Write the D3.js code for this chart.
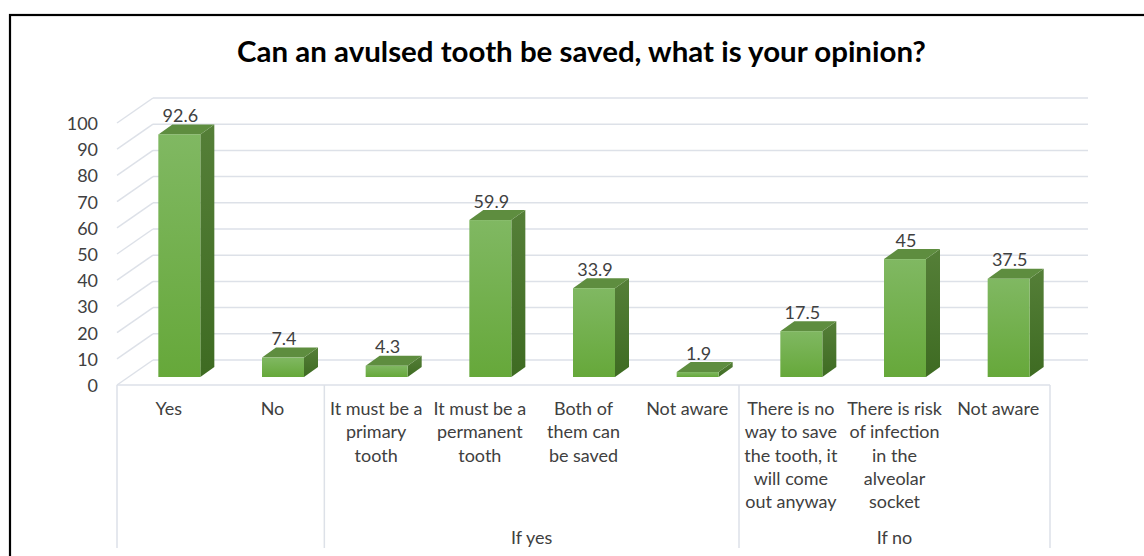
<!DOCTYPE html>
<html><head><meta charset="utf-8">
<script src="https://cdn.jsdelivr.net/npm/d3@7"></script>
<style>html,body{margin:0;padding:0;background:#fff;}svg{display:block;}</style>
</head><body>
<svg id="chart" width="1144" height="556"></svg>
<script>
// ---- data ----
const title = "Can an avulsed tooth be saved, what is your opinion?";
const categories = ["Yes", "No", "It must be a\nprimary\ntooth", "It must be a\npermanent\ntooth",
  "Both of\nthem can\nbe saved", "Not aware", "There is no\nway to save\nthe tooth, it\nwill come\nout anyway",
  "There is risk\nof infection\nin the\nalveolar\nsocket", "Not aware"];
const values = [92.6, 7.4, 4.3, 59.9, 33.9, 1.9, 17.5, 45, 37.5];
const valueLabels = ["92.6", "7.4", "4.3", "59.9", "33.9", "1.9", "17.5", "45", "37.5"];
const groupNames = ["If yes", "If no"];
const groupOf = [null, null, 0, 0, 0, 0, 1, 1, 1];
const yTicks = [0, 10, 20, 30, 40, 50, 60, 70, 80, 90, 100];

// ---- layout ----
const svg = d3.select("#chart");
const FONT = "Lato, 'Open Sans', sans-serif";
const left = 117, right = 1050, floorY = 385, topY = 123;
const depth = {dx: 36, dy: -25};
const barOff = {dx: 10.5, dy: -8};
const barDepth = {dx: 14, dy: -10};

const x = d3.scaleBand().domain(d3.range(categories.length)).range([left, right]).padding(0);
const y = d3.scaleLinear().domain([0, 100]).range([floorY, topY]);
const barW = 42;

function fitSize(str, weight, targetW) {
  const t = svg.append("text").attr("font-family", FONT).attr("font-weight", weight)
    .attr("font-size", 100).text(str);
  const w = t.node().getComputedTextLength();
  t.remove();
  return 100 * targetW / w;
}
const bodySize = fitSize("Not aware", "normal", 82);
const titleSize = fitSize(title, "bold", 689);

// border
svg.append("rect").attr("x", 10).attr("y", 15).attr("width", 1160).attr("height", 600)
  .attr("fill", "none").attr("stroke", "#000").attr("stroke-width", 2.2);

// title
svg.append("text").attr("x", 581.5).attr("y", 50).attr("text-anchor", "middle")
  .attr("dominant-baseline", "central").attr("font-family", FONT).attr("font-weight", "bold")
  .attr("font-size", titleSize).attr("fill", "#000").text(title);

const grid = svg.append("g").attr("stroke", "#dde1e8").attr("stroke-width", 1.5).attr("fill", "none");
yTicks.forEach(v => {
  const yf = y(v);
  grid.append("line").attr("x1", left).attr("y1", yf).attr("x2", left + depth.dx).attr("y2", yf + depth.dy);
  grid.append("line").attr("x1", left + depth.dx).attr("y1", yf + depth.dy)
    .attr("x2", right + depth.dx + 2).attr("y2", yf + depth.dy);
});
grid.append("line").attr("x1", left).attr("y1", floorY).attr("x2", right).attr("y2", floorY);

// category separators
const sepIdx = [0, 2, 6, 9];
sepIdx.forEach(i => {
  const sx = i < categories.length ? x(i) : right;
  grid.append("line").attr("x1", sx).attr("y1", floorY).attr("x2", sx).attr("y2", 548);
});

// y tick labels
svg.append("g").selectAll("text").data(yTicks).join("text")
  .attr("x", 98).attr("y", d => y(d)).attr("text-anchor", "end").attr("dominant-baseline", "central")
  .attr("font-family", FONT).attr("font-size", bodySize).attr("fill", "#404040").text(d => d);

// gradients
const defs = svg.append("defs");
const gF = defs.append("linearGradient").attr("id", "gFront").attr("x1", 0).attr("y1", 0).attr("x2", 0).attr("y2", 1);
gF.append("stop").attr("offset", "0%").attr("stop-color", "#80b862");
gF.append("stop").attr("offset", "100%").attr("stop-color", "#66a83a");
const gS = defs.append("linearGradient").attr("id", "gSide").attr("x1", 0).attr("y1", 0).attr("x2", 0).attr("y2", 1);
gS.append("stop").attr("offset", "0%").attr("stop-color", "#557f38");
gS.append("stop").attr("offset", "100%").attr("stop-color", "#3e6b22");

// bars
const bars = svg.append("g");
values.forEach((v, i) => {
  const cx = x(i) + x.bandwidth() / 2 + barOff.dx;
  const x0 = cx - barW / 2, x1 = cx + barW / 2;
  const yb = y(0) + barOff.dy, yt = y(v) + barOff.dy;
  const dx = barDepth.dx, dy = barDepth.dy;
  const g = bars.append("g");
  g.append("path").attr("d", `M${x1},${yb}L${x1 + dx},${yb + dy}L${x1 + dx},${yt + dy}L${x1},${yt}Z`)
    .attr("fill", "url(#gSide)");
  g.append("path").attr("d", `M${x0},${yt}L${x0 + dx},${yt + dy}L${x1 + dx},${yt + dy}L${x1},${yt}Z`)
    .attr("fill", "#5e8d3f");
  g.append("rect").attr("x", x0).attr("y", yt).attr("width", barW).attr("height", yb - yt)
    .attr("fill", "url(#gFront)");
  svg.append("text").attr("x", cx + 1).attr("y", yt + dy - 9.5).attr("text-anchor", "middle")
    .attr("dominant-baseline", "central").attr("font-family", FONT).attr("font-size", bodySize)
    .attr("fill", "#404040").text(valueLabels[i]);
});

// category labels
const lh = 23.3;
categories.forEach((c, i) => {
  const t = svg.append("text").attr("text-anchor", "middle").attr("font-family", FONT)
    .attr("font-size", bodySize).attr("fill", "#404040");
  c.split("\n").forEach((line, k) => {
    t.append("tspan").attr("x", x(i) + x.bandwidth() / 2).attr("y", 408 + k * lh)
      .attr("dominant-baseline", "central").text(line);
  });
});

// group labels
groupNames.forEach((g, gi) => {
  const idx = d3.range(categories.length).filter(i => groupOf[i] === gi);
  const gx0 = x(d3.min(idx)), gx1 = x(d3.max(idx)) + x.bandwidth();
  svg.append("text").attr("x", (gx0 + gx1) / 2).attr("y", 537).attr("text-anchor", "middle")
    .attr("dominant-baseline", "central").attr("font-family", FONT).attr("font-size", bodySize)
    .attr("fill", "#404040").text(g);
});
</script>
</body></html>
